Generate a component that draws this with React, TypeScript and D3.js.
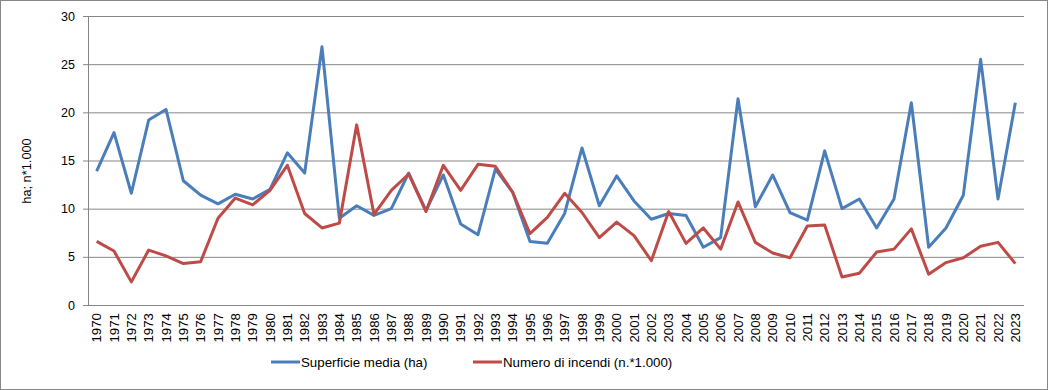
import * as React from "react";
import { useEffect, useRef } from "react";
import { axisLeft, line, scaleBand, scaleLinear, select } from "d3";

const years = [
  "1970", "1971", "1972", "1973", "1974", "1975", "1976", "1977", "1978", "1979",
  "1980", "1981", "1982", "1983", "1984", "1985", "1986", "1987", "1988", "1989",
  "1990", "1991", "1992", "1993", "1994", "1995", "1996", "1997", "1998", "1999",
  "2000", "2001", "2002", "2003", "2004", "2005", "2006", "2007", "2008", "2009",
  "2010", "2011", "2012", "2013", "2014", "2015", "2016", "2017", "2018", "2019",
  "2020", "2021", "2022", "2023",
];

const superficieMedia = [
  13.9, 17.9, 11.6, 19.2, 20.3, 12.9, 11.4, 10.5, 11.5, 11.0,
  12.0, 15.8, 13.7, 26.8, 9.0, 10.3, 9.3, 10.0, 13.7, 9.8,
  13.5, 8.4, 7.3, 14.1, 11.7, 6.6, 6.4, 9.5, 16.3, 10.3,
  13.4, 10.8, 8.9, 9.5, 9.3, 6.0, 7.0, 21.4, 10.2, 13.5,
  9.6, 8.8, 16.0, 10.0, 11.0, 8.0, 11.0, 21.0, 6.0, 8.0,
  11.4, 25.5, 11.0, 21.0,
];

const numeroIncendi = [
  6.6, 5.6, 2.4, 5.7, 5.1, 4.3, 4.5, 9.0, 11.1, 10.4,
  11.9, 14.5, 9.5, 8.0, 8.5, 18.7, 9.4, 11.9, 13.6, 9.7,
  14.5, 11.9, 14.6, 14.4, 11.7, 7.4, 9.1, 11.6, 9.6, 7.0,
  8.6, 7.2, 4.6, 9.7, 6.4, 8.0, 5.8, 10.7, 6.5, 5.4,
  4.9, 8.2, 8.3, 2.9, 3.3, 5.5, 5.8, 7.9, 3.2, 4.4,
  4.9, 6.1, 6.5, 4.3,
];

const yTicks = [0, 5, 10, 15, 20, 25, 30];

const series = [
  { name: "Superficie media (ha)", values: superficieMedia, color: "#4A7EBB" },
  { name: "Numero di incendi (n.*1.000)", values: numeroIncendi, color: "#BE4B48" },
];

const W = 1048;
const H = 390;
const margin = { top: 16, right: 24, bottom: 85, left: 88 };
const FONT = "'Liberation Sans', Arial, sans-serif";

function AxisLeft({ scale }) {
  const ref = useRef<SVGGElement>(null);
  useEffect(() => {
    if (!ref.current) return;
    const g = select(ref.current);
    g.call(axisLeft(scale).tickValues(yTicks).tickSize(5).tickPadding(8));
    g.select(".domain").remove();
    g.selectAll(".tick line").attr("stroke", "#868686");
    g.selectAll(".tick text")
      .attr("font-family", FONT)
      .attr("font-size", 12.5)
      .attr("fill", "#000");
  }, [scale]);
  return <g ref={ref} />;
}

export default function App() {
  const innerW = W - margin.left - margin.right;
  const innerH = H - margin.top - margin.bottom;

  const x = scaleBand().domain(years).range([0, innerW]);
  const y = scaleLinear().domain([0, 30]).range([innerH, 0]);
  const cx = (yr: string) => (x(yr) ?? 0) + x.bandwidth() / 2;

  const path = line<number>()
    .x((_, i) => cx(years[i]))
    .y((d) => y(d));

  return (
    <div style={{ position: "fixed", left: 0, top: 0 }}>
      <svg width={W} height={H} style={{ display: "block", background: "#fff" }}>
        <rect x={0.5} y={0.5} width={W - 1} height={H - 1} fill="#fff" stroke="#888" />
        <g transform={`translate(${margin.left},${margin.top})`}>
          {yTicks.slice(1).map((t) => (
            <line key={t} x1={0} x2={innerW} y1={y(t) + 0.5} y2={y(t) + 0.5} stroke="#868686" />
          ))}
          <line x1={0.5} x2={0.5} y1={0} y2={innerH} stroke="#868686" />
          <line x1={-5} x2={innerW} y1={innerH + 0.5} y2={innerH + 0.5} stroke="#868686" />
          <AxisLeft scale={y} />
          {series.map((s) => (
            <path
              key={s.name}
              d={path(s.values) ?? ""}
              fill="none"
              stroke={s.color}
              strokeWidth={3}
              strokeLinejoin="round"
            />
          ))}
          {years.map((yr) => (
            <text
              key={yr}
              transform={`translate(${cx(yr) + 4.8},${innerH + 8}) rotate(-90)`}
              textAnchor="end"
              fontFamily={FONT}
              fontSize={13.3}
            >
              {yr}
            </text>
          ))}
        </g>
        <text
          transform="translate(31,171) rotate(-90)"
          textAnchor="middle"
          fontFamily={FONT}
          fontSize={12.8}
        >
          ha; n*1.000
        </text>
        <g fontFamily={FONT} fontSize={13.3}>
          <line x1={271} x2={300} y1={362} y2={362} stroke={series[0].color} strokeWidth={3} />
          <text x={301} y={366.5}>{series[0].name}</text>
          <line x1={473} x2={502} y1={362} y2={362} stroke={series[1].color} strokeWidth={3} />
          <text x={503} y={366.5}>{series[1].name}</text>
        </g>
      </svg>
    </div>
  );
}
